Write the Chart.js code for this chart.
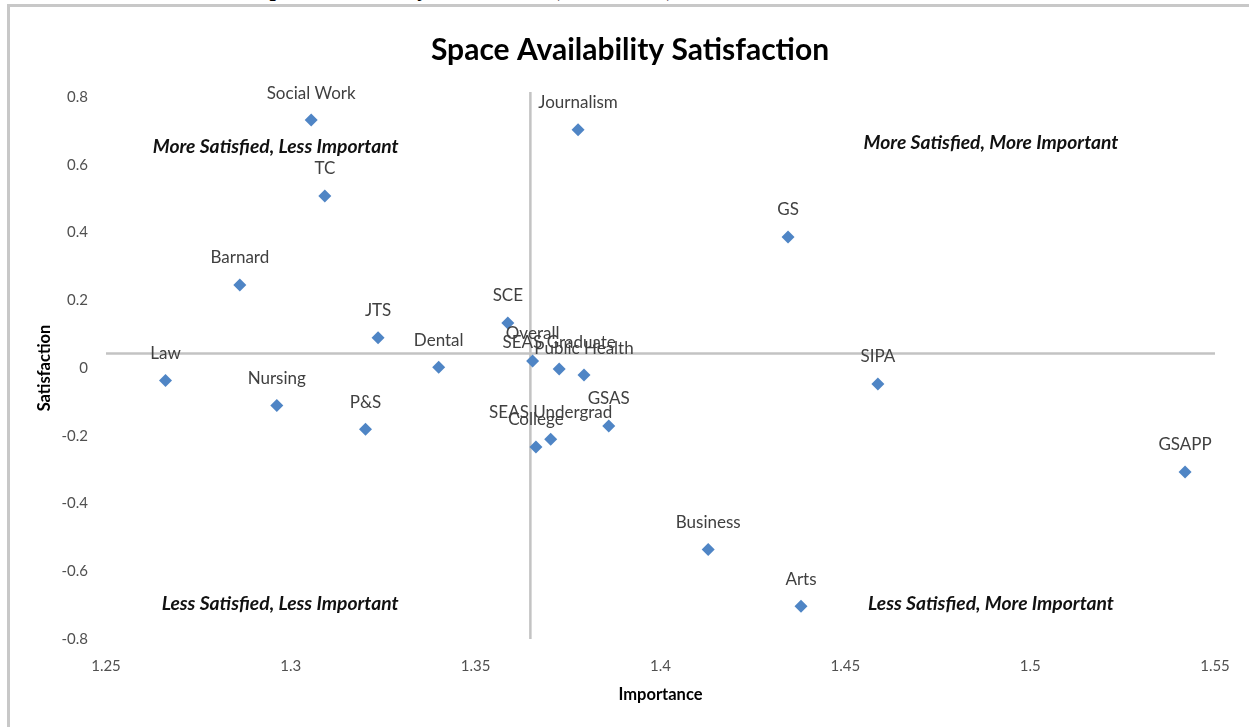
<!DOCTYPE html>
<html>
<head>
<meta charset="utf-8">
<title>Space Availability Satisfaction</title>
<script src="https://cdn.jsdelivr.net/npm/chart.js@4.4.0/dist/chart.umd.min.js"></script>
<style>
  html, body { margin: 0; padding: 0; background: #fff; overflow: hidden; }
  #page { position: relative; width: 1249px; height: 727px; overflow: hidden; }
  #heading {
    position: absolute; left: 257px; top: -22px;
    font: bold 22.5px "Liberation Serif", "Times New Roman", serif;
    line-height: 1; color: #000; white-space: nowrap;
  }
  #frame {
    position: absolute; left: 7px; top: 4px; width: 1270px; height: 760px;
    border: 3px solid #c8c8c8; box-sizing: border-box; background: #fff;
  }
  #chart { position: absolute; left: 0; top: 0; }
</style>
</head>
<body>
<div id="page">
  <div id="heading">Space Availability Satisfaction (All Schools)</div>
  <div id="frame"></div>
  <canvas id="chart" width="1249" height="727"></canvas>
</div>
<script>
// one point per school, importance on x and satisfaction on y
const schools = ['Social Work', 'Journalism', 'TC', 'GS', 'Barnard', 'SCE', 'JTS', 'Overall', 'Dental',
    'SEAS Graduate', 'Public Health', 'Law', 'SIPA', 'Nursing', 'P&S', 'GSAS', 'SEAS Undergrad',
    'College', 'GSAPP', 'Business', 'Arts'];
const importance = [1.3055, 1.3777, 1.3092, 1.4345, 1.2862, 1.3587, 1.3236, 1.3654, 1.3400,
    1.3726, 1.3793, 1.2661, 1.4588, 1.2962, 1.3202, 1.3860, 1.3703,
    1.3663, 1.5419, 1.4129, 1.4380];
const satisfaction = [0.732, 0.703, 0.508, 0.387, 0.245, 0.133, 0.089, 0.021, 0.002,
    -0.003, -0.021, -0.037, -0.047, -0.111, -0.181, -0.171, -0.210,
    -0.233, -0.307, -0.536, -0.703];

// dividing lines between the quadrants
const avgImportance = 1.3648;
const avgSatisfaction = 0.043;

const xRange = [1.25, 1.55];
const yRange = [-0.8, 0.8];
const vLineRange = [-0.8, 0.815];

const quadrantText = ['More Satisfied, Less Important', 'More Satisfied, More Important',
    'Less Satisfied, Less Important', 'Less Satisfied, More Important'];

const points = schools.map((s, i) => ({x: importance[i], y: satisfaction[i]}));

const labelFont = '17px Lato, "Open Sans", sans-serif';
const quadFont = 'italic bold 19.3px Lato, "Open Sans", sans-serif';

// school names above each marker, plus the four quadrant captions
const annotate = {
    id: 'annotate',
    afterDatasetsDraw(chart) {
        const ctx = chart.ctx;
        const area = chart.chartArea;
        const meta = chart.getDatasetMeta(0);
        ctx.save();
        ctx.textAlign = 'center';
        ctx.textBaseline = 'middle';
        ctx.font = labelFont;
        ctx.fillStyle = '#404040';
        meta.data.forEach((el, i) => {
            ctx.fillText(schools[i], el.x, el.y - 27);
        });

        const spots = [[0.153, 0.092], [0.798, 0.085], [0.157, 0.935], [0.798, 0.935]];
        ctx.font = quadFont;
        ctx.fillStyle = '#111';
        quadrantText.forEach((t, i) => {
            const px = area.left + spots[i][0] * (area.right - area.left);
            const py = area.top + spots[i][1] * (area.bottom - area.top);
            ctx.fillText(t, px, py);
        });
        ctx.restore();
    }
};

const trimTick = (v) => String(+Number(v).toFixed(2));

const chart = new Chart(document.getElementById('chart'), {
    type: 'scatter',
    data: {
        datasets: [{
            label: 'Schools',
            data: points,
            pointStyle: 'rectRot',
            pointRadius: 6.5,
            pointHoverRadius: 7.5,
            backgroundColor: '#4f85c5',
            borderColor: '#4f85c5',
            borderWidth: 0,
            order: 1
        }, {
            label: 'Average importance',
            data: [{x: avgImportance, y: vLineRange[0]}, {x: avgImportance, y: vLineRange[1]}],
            showLine: true,
            pointRadius: 0,
            borderColor: '#c3c3c3',
            borderWidth: 2.5,
            clip: false,
            order: 2
        }, {
            label: 'Average satisfaction',
            data: [{x: xRange[0], y: avgSatisfaction}, {x: xRange[1], y: avgSatisfaction}],
            showLine: true,
            pointRadius: 0,
            borderColor: '#c3c3c3',
            borderWidth: 2.5,
            clip: false,
            order: 2
        }]
    },
    options: {
        responsive: false,
        animation: false,
        layout: {
            // left/right padding keeps the title centred a little right of the page middle
            padding: {left: 45, right: 34, top: 0, bottom: 0}
        },
        plugins: {
            legend: {display: false},
            title: {
                display: true,
                text: 'Space Availability Satisfaction',
                color: '#000',
                font: {family: 'Lato', size: 30, weight: 'bold'},
                padding: {top: 32, bottom: 29}
            },
            tooltip: {
                callbacks: {
                    label: (c) => c.datasetIndex === 0 ? schools[c.dataIndex] + ': (' + c.parsed.x + ', ' + c.parsed.y + ')' : ''
                }
            }
        },
        scales: {
            x: {
                type: 'linear',
                min: xRange[0],
                max: xRange[1],
                grid: {display: false, drawTicks: false},
                border: {display: false},
                ticks: {
                    stepSize: 0.05,
                    padding: 18,
                    color: '#505050',
                    font: {family: 'Lato', size: 15},
                    callback: trimTick
                },
                title: {
                    display: true,
                    text: 'Importance',
                    color: '#000',
                    font: {family: 'Lato', size: 16.5, weight: 'bold'},
                    padding: {top: 0, bottom: 22}
                },
                afterFit: (scale) => { scale.height = 88; }
            },
            y: {
                type: 'linear',
                min: yRange[0],
                max: yRange[1],
                grid: {display: false, drawTicks: false},
                border: {display: false},
                ticks: {
                    stepSize: 0.2,
                    padding: 18,
                    color: '#505050',
                    font: {family: 'Lato', size: 15},
                    callback: trimTick
                },
                title: {
                    display: true,
                    text: 'Satisfaction',
                    color: '#000',
                    font: {family: 'Lato', size: 16.5, weight: 'bold'},
                    padding: {top: -10, bottom: 0}
                },
                afterFit: (scale) => { scale.width = 61; }
            }
        }
    },
    plugins: [annotate]
});
</script>
</body>
</html>
